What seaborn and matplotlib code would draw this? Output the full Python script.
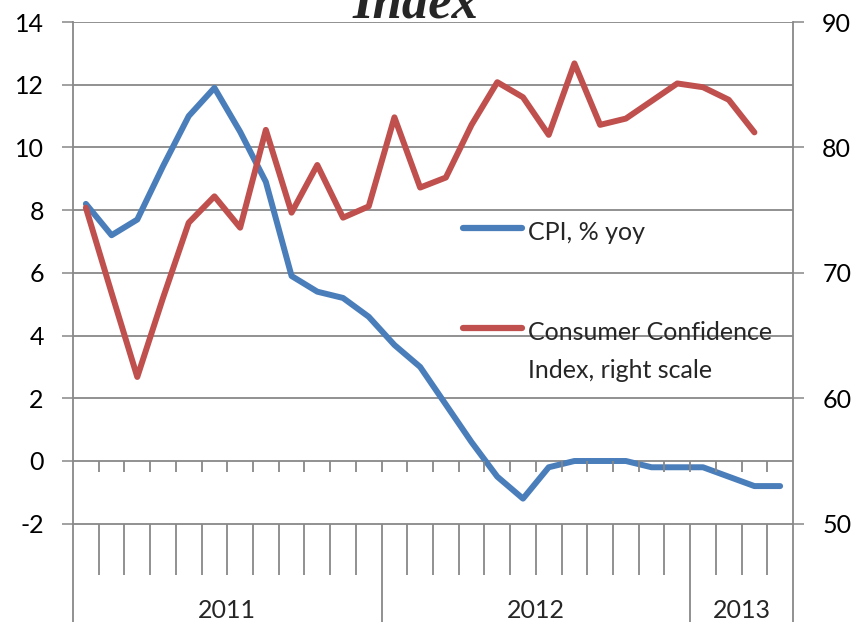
import numpy as np
import pandas as pd
import matplotlib.pyplot as plt
import seaborn as sns
from matplotlib.lines import Line2D

# Monthly data, Jan 2011 - Apr 2013
years = ['2011', '2012', '2013']
months_per_year = [12, 12, 4]
cpi = [8.2, 7.2, 7.7, 9.4, 11.0, 11.9, 10.5, 8.9, 5.9, 5.4, 5.2, 4.6,
       3.7, 3.0, 1.8, 0.6, -0.5, -1.2, -0.2, 0.0, 0.0, 0.0, -0.2, -0.2,
       -0.2, -0.5, -0.8, -0.8]
cci = [75.2, 68.4, 61.7, 68.0, 74.0, 76.1, 73.6, 81.4, 74.8, 78.6, 74.4, 75.3,
       82.4, 76.8, 77.6, 81.8, 85.2, 84.0, 81.0, 86.7, 81.8, 82.3, 83.7, 85.1,
       84.8, 83.8, 81.2, np.nan]
labels = ['CPI, % yoy', 'Consumer Confidence', 'Index, right scale']

df = pd.DataFrame({'month': np.arange(len(cpi)), 'cpi': cpi, 'cci': cci})

sns.set_style('white')
plt.rcParams['font.family'] = ['Lato', 'DejaVu Sans']
plt.rcParams['axes.unicode_minus'] = False

blue = '#4A7EBB'
red = '#C0504D'
grid = '#888888'

W, H = 856, 622
fig = plt.figure(figsize=(W / 100, H / 100), dpi=100)
# axes run past the bottom edge, as in the cropped original
ax = fig.add_axes([73 / W, 1 - 640 / H, (793 - 73) / W, (640 - 22) / H])
ax2 = ax.twinx()

ylo = -(640 - 461) / 31.357
ax.set_ylim(ylo, 14)
ax2.set_ylim(55 + 2.5 * ylo, 90)
ax.set_xlim(-0.5, len(cpi) - 0.5)

sns.lineplot(data=df, x='month', y='cpi', ax=ax, color=blue, lw=4.3, legend=False)
sns.lineplot(data=df, x='month', y='cci', ax=ax2, color=red, lw=4.3, legend=False)

ax.set_yticks(range(-2, 15, 2))
ax2.set_yticks(range(50, 91, 10))
ax.set_xticks([])
ax2.set_xticks([])
ax.set_xlabel('')
ax.set_ylabel('')
ax2.set_ylabel('')
ax.grid(axis='y', color=grid, lw=1.3)
ax.set_axisbelow(True)
for a in (ax, ax2):
    a.tick_params(axis='y', length=8, width=1.1, color=grid, pad=13,
                  labelsize=18, labelcolor='black')
    for s in a.spines.values():
        s.set_visible(False)
ax.spines['left'].set_visible(True)
ax.spines['left'].set_color(grid)
ax.spines['left'].set_linewidth(1.3)
ax2.spines['right'].set_visible(True)
ax2.spines['right'].set_color(grid)
ax2.spines['right'].set_linewidth(1.3)

# category axis: short ticks at zero, label dividers below
n = len(cpi)
bounds = np.arange(1, n) - 0.5
year_edges = np.cumsum(months_per_year)[:-1] - 0.5
ax.vlines(bounds, -0.35, 0, color=grid, lw=1.3)
ax.vlines([b for b in bounds if b not in year_edges], -3.64, -2, color=grid, lw=1.3)
ax.vlines(year_edges, ylo, -2, color=grid, lw=1.3)

starts = np.concatenate([[0], np.cumsum(months_per_year)[:-1]])
for yr, st, cnt in zip(years, starts, months_per_year):
    ax.text(st + cnt / 2 - 0.5, -5.0, yr, ha='center', va='baseline', fontsize=18)

# legend drawn by hand, Excel style
fig.add_artist(Line2D([463 / W, 522 / W], [1 - 228 / H] * 2, color=blue, lw=4.5,
                      solid_capstyle='round'))
fig.add_artist(Line2D([463 / W, 522 / W], [1 - 328 / H] * 2, color=red, lw=4.5,
                      solid_capstyle='round'))
fig.text(528 / W, 1 - 240 / H, labels[0], fontsize=18, va='baseline')
fig.text(528 / W, 1 - 340 / H, labels[1], fontsize=18, va='baseline')
fig.text(528 / W, 1 - 378 / H, labels[2], fontsize=18, va='baseline')

# title, cut off at the top
fig.text(415.5 / W, 1 - 17 / H, 'Index', family='Liberation Serif', fontweight='bold',
         fontstyle='italic', fontsize=38, ha='center', va='baseline')

fig.savefig('out.png', dpi=100)
